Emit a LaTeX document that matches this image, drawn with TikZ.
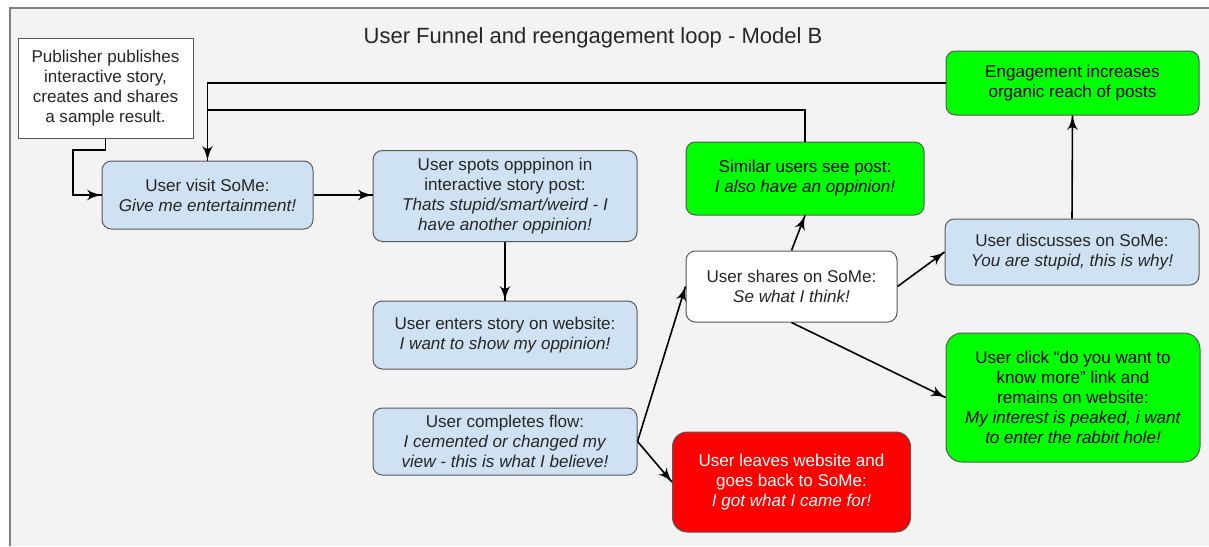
\documentclass[tikz,border=0pt]{standalone}
\usepackage{fontspec}
\setmainfont{Liberation Sans}
\usepackage{tikz}
\usetikzlibrary{arrows}
\usetikzlibrary{decorations.markings}
\usetikzlibrary{positioning}
\definecolor{bgcol}{HTML}{F3F3F3}
\definecolor{lblue}{HTML}{CFE2F3}
\definecolor{lgreen}{HTML}{00FF00}
\definecolor{lred}{HTML}{FF0000}
\definecolor{edge}{HTML}{595959}
\definecolor{txt}{HTML}{262626}
\tikzset{->/.style = {decoration={markings,
                                  mark=at position 1 with {\arrow[scale=1.7]{latex'}}},
                      postaction={decorate}}}
\tikzset{box/.style = {draw=edge, line width=0.75pt, rounded corners=7pt, align=center,
                       inner sep=0, text=txt, font=\fontsize{12.8}{15}\selectfont}}
\tikzset{blue/.style = {box, fill=lblue}}
\tikzset{grn/.style = {box, fill=lgreen, text=black}}
\tikzset{wht/.style = {box, fill=white}}
\tikzset{link/.style = {line width=1.2pt, black}}

\begin{document}
\begin{tikzpicture}[x=0.75pt, y=-0.75pt]
      \useasboundingbox (0, 0) rectangle (1209, 546);
      \fill [bgcol] (10, 8) rectangle (1209, 546);
      \draw [gray, line width=1.5pt] (10, 546) -- (10, 8) -- (1209, 8);

      \node [text=txt] (title) at (593, 38) {\fontsize{16.5}{19}\selectfont User Funnel and reengagement loop - Model B};

      \node [wht, rounded corners=0, minimum width=131.25pt, minimum height=75pt] (pub) at (105.5, 88)
            {Publisher publishes\\interactive story,\\creates and shares\\a sample result.};
      \node [blue, minimum width=158.25pt, minimum height=51pt] (visit) at (207.5, 195)
            {User visit SoMe:\\\textit{Give me entertainment!}};
      \node [blue, minimum width=198pt, minimum height=68.25pt] (spots) at (505, 196)
            {User spots opppinon in\\interactive story post:\\\textit{Thats stupid/smart/weird - I}\\\textit{have another oppinion!}};
      \node [blue, minimum width=198pt, minimum height=51pt] (enters) at (505, 335)
            {User enters story on website:\\\textit{I want to show my oppinion!}};
      \node [blue, minimum width=198pt, minimum height=50.25pt] (done) at (505, 441.5)
            {User completes flow:\\\textit{I cemented or changed my}\\\textit{view - this is what I believe!}};
      \node [box, fill=lred, text=white, rounded corners=11pt, minimum width=178.5pt, minimum height=75pt] (leave) at (791.5, 482)
            {User leaves website and\\goes back to SoMe:\\\textit{I got what I came for!}};
      \node [grn, minimum width=178.5pt, minimum height=54.75pt] (similar) at (805, 178.5)
            {Similar users see post:\\\textit{I also have an oppinion!}};
      \node [wht, minimum width=158.25pt, minimum height=53.25pt] (share) at (791.5, 286.5)
            {User shares on SoMe:\\\textit{Se what I think!}};
      \node [blue, minimum width=190.5pt, minimum height=49.5pt] (discuss) at (1072, 252)
            {User discusses on SoMe:\\\textit{You are stupid, this is why!}};
      \node [grn, minimum width=189.75pt, minimum height=48pt] (engage) at (1072.5, 83)
            {Engagement increases\\organic reach of posts};
      \node [grn, rounded corners=12pt, minimum width=190.5pt, minimum height=96.75pt] (rabbit) at (1073, 397.5)
            {User click “do you want to\\know more” link and\\remains on website:\\\textit{My interest is peaked, i want}\\\textit{to enter the rabbit hole!}};

      \coordinate (bend) at (73, 150);
      \coordinate (loop) at (207.5, 110);

      \draw [link, ->] (pub.south) |- (bend) |- (visit.west);
      \draw [link, ->] (visit.east) -- (visit.east -| spots.west);
      \draw [link, ->] (spots.south) -- (enters.north);
      \draw [link, ->] (done.east) -- (share.west);
      \draw [link, ->] (done.east) -- (leave.west);
      \draw [link, ->] (share.north) -- (similar.south);
      \draw [link, ->] (share.east) -- (discuss.west);
      \draw [link, ->] (share.south) -- (rabbit.west);
      \draw [link, ->] (discuss.north) -- (engage.south);
      \draw [link, ->] (engage.west) -| (visit.north);
      \draw [link] (similar.north) |- (loop);
    \end{tikzpicture}
\end{document}
